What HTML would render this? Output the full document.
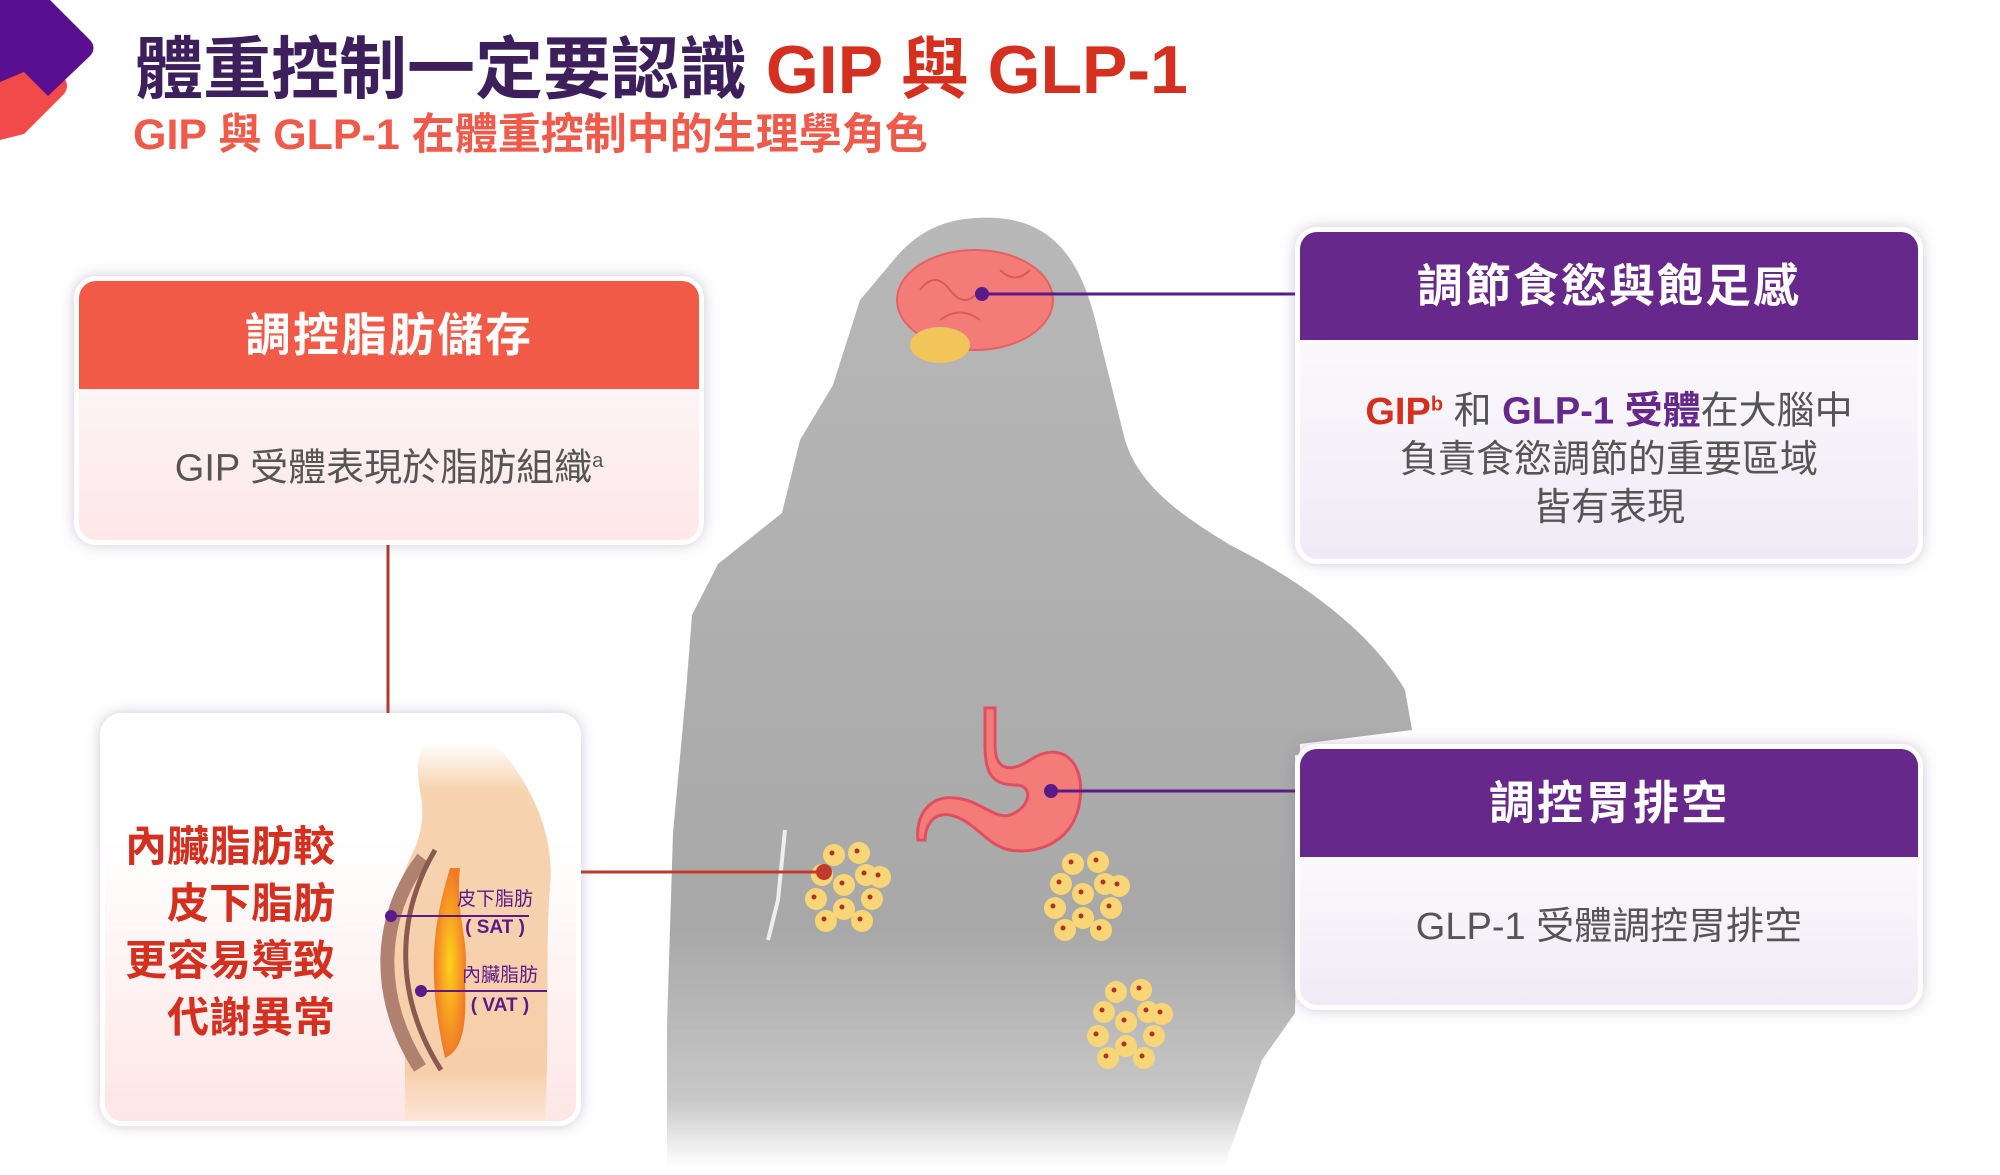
<!DOCTYPE html>
<html><head><meta charset="utf-8"><style>
*{margin:0;padding:0;box-sizing:border-box}
body{width:2000px;height:1175px;background:#fff;position:relative;overflow:hidden;font-family:"Liberation Sans","Noto Sans CJK TC",sans-serif}
.abs{position:absolute}
.card{position:absolute;border-radius:22px;background:#fff;box-shadow:0 0 14px rgba(120,100,140,.35);overflow:hidden;border:5px solid #fff}
.hdr{color:#fff;font-weight:bold;text-align:center;font-size:46px;letter-spacing:2px}
.body{text-align:center;color:#555;font-size:38px;line-height:48px}
</style></head><body>
<svg class="abs" style="left:0;top:0" width="2000" height="1175">
<defs>
<linearGradient id="sil" x1="0" y1="0" x2="0" y2="1">
<stop offset="0" stop-color="#b8b8b8"/><stop offset="0.75" stop-color="#a8a8a8"/><stop offset="0.93" stop-color="#c8c8c8"/><stop offset="1" stop-color="#fff"/></linearGradient>
<radialGradient id="blob"><stop offset="0" stop-color="#ffd21a"/><stop offset="1" stop-color="#f07a28"/></radialGradient>
<linearGradient id="peach" x1="0" y1="0" x2="0" y2="1"><stop offset="0" stop-color="#fff"/><stop offset="0.12" stop-color="#f7d3b0"/><stop offset="0.85" stop-color="#f6cfaa"/><stop offset="1" stop-color="#fde8e0"/></linearGradient>
<g id="fc">
<g fill="#f8d676">
<circle cx="0" cy="0" r="11"/><circle cx="-22" cy="-10" r="11"/><circle cx="22" cy="-10" r="11"/><circle cx="-10" cy="-30" r="11"/><circle cx="15" cy="-32" r="11"/><circle cx="-28" cy="14" r="11"/><circle cx="28" cy="14" r="11"/><circle cx="0" cy="24" r="11"/><circle cx="-18" cy="36" r="11"/><circle cx="18" cy="36" r="11"/><circle cx="36" cy="-8" r="11"/>
</g>
<g fill="#b0302a">
<circle cx="-2" cy="-2" r="2.5"/><circle cx="-24" cy="-12" r="2.5"/><circle cx="20" cy="-12" r="2.5"/><circle cx="-12" cy="-32" r="2.5"/><circle cx="13" cy="-34" r="2.5"/><circle cx="-30" cy="12" r="2.5"/><circle cx="26" cy="12" r="2.5"/><circle cx="-2" cy="22" r="2.5"/><circle cx="-20" cy="34" r="2.5"/><circle cx="16" cy="34" r="2.5"/><circle cx="34" cy="-10" r="2.5"/>
</g>
</g>
</defs>
<path d="M0 78 L38 54 L64 78 Q70 86 64 94 L24 134 L0 140 Z" fill="#f24a4a"/>
<path d="M0 0 L50 0 L90 40 Q97 48 90 56 L48 96 L24 72 L0 82 Z" fill="#5a0f91"/>
<path d="M975 218 C1060 212,1085 270,1100 340 L1125 440 C1140 490,1190 520,1230 545 C1300 580,1370 630,1405 690 L1412 730 L1300 744 L1295 1013 L1262 1060 L1224 1167 L667 1167 L667 1025 L673 833 L686 692 L692 615 L718 564 L782 513 L800 440 L833 385 L860 300 L897 256 C920 230,945 220,975 218 Z" fill="url(#sil)"/>
<path d="M1295 755 L1330 755 L1325 845 L1295 860 Z" fill="#fff"/>
<path d="M785 830 L778 900 L768 940" stroke="#eee" stroke-width="4" fill="none"/>
<ellipse cx="975" cy="300" rx="78" ry="50" fill="#f47c78" stroke="#e86060" stroke-width="2"/>
<ellipse cx="940" cy="345" rx="30" ry="18" fill="#f2c55a"/>
<path d="M920 290 q15 -20 30 0 q15 20 30 0 M940 320 q20 -15 40 0 M1000 270 q15 15 30 0" stroke="#d95a5a" stroke-width="2" fill="none"/>
<line x1="982" y1="294" x2="1295" y2="294" stroke="#5a1a8a" stroke-width="3"/>
<circle cx="982" cy="294" r="7" fill="#5a1a8a"/>
<path d="M995 708 L995 745 C995 775,1015 770,1030 760 C1060 740,1085 760,1080 800 C1075 840,1040 855,1010 850 C985 845,975 820,950 815 C930 812,925 830,925 840 L918 840 C915 815,930 795,955 798 C980 800,995 820,1010 815 C1030 808,1035 785,1015 785 C990 785,985 770,985 745 L985 708 Z" fill="#f47c78" stroke="#e34d60" stroke-width="3"/>
<line x1="1051" y1="791" x2="1295" y2="791" stroke="#5a1a8a" stroke-width="3"/>
<circle cx="1051" cy="791" r="7" fill="#5a1a8a"/>
<use href="#fc" x="844" y="885"/><use href="#fc" x="1083" y="894"/><use href="#fc" x="1126" y="1022"/>
<line x1="581" y1="872" x2="824" y2="872" stroke="#c0392b" stroke-width="3"/>
<circle cx="824" cy="872" r="8" fill="#c0392b"/>
<line x1="388" y1="545" x2="388" y2="713" stroke="#b03a2e" stroke-width="3"/>
</svg>
<div class="abs" style="left:135px;top:14px;font-size:68px;font-weight:bold;color:#3d1f5c;white-space:nowrap">體重控制一定要認識 <span style="color:#d42f1f">GIP 與 GLP-1</span></div>
<div class="abs" style="left:133px;top:100px;font-size:43px;font-weight:bold;color:#ef5a4a;white-space:nowrap">GIP 與 GLP-1 在體重控制中的生理學角色</div>

<div class="card" style="left:74px;top:276px;width:630px;height:269px">
<div class="hdr" style="background:#f05a47;height:108px;line-height:108px">調控脂肪儲存</div>
<div class="body" style="height:160px;padding-top:48px;background:linear-gradient(#fdf4f5,#fde6e8)">GIP 受體表現於脂肪組織<sup style="font-size:20px">a</sup></div>
</div>

<div class="card" style="left:100px;top:713px;width:481px;height:413px;background:linear-gradient(#fff 30%,#fde6e6)">
<div class="abs" style="left:5px;top:100px;width:225px;text-align:right;color:#d42f1f;font-weight:bold;font-size:42px;line-height:57px">內臟脂肪較<br>皮下脂肪<br>更容易導致<br>代謝異常</div>
<svg class="abs" style="left:0;top:0" width="481" height="413">
<path d="M320 25 C300 60,330 80,310 130 C280 190,270 260,300 330 L300 410 L440 410 C445 300,440 230,445 170 C450 120,430 70,390 25 Z" fill="url(#peach)"/>
<path d="M318 140 C272 200,270 280,315 350" stroke="#b08070" stroke-width="14" fill="none"/>
<path d="M330 132 C290 200,290 280,336 352" stroke="#8a5a50" stroke-width="5" fill="none"/>
<path d="M345 150 C330 200,320 250,340 340 C365 330,360 280,360 260 C365 220,350 200,355 150 Z" fill="url(#blob)"/>
<line x1="286" y1="198" x2="424" y2="198" stroke="#5a1a8a" stroke-width="2"/>
<circle cx="286" cy="198" r="6" fill="#5a1a8a"/>
<line x1="316" y1="273" x2="442" y2="273" stroke="#5a1a8a" stroke-width="2"/>
<circle cx="316" cy="273" r="6" fill="#5a1a8a"/>
</svg>
<div class="abs" style="left:340px;top:168px;width:100px;text-align:center;color:#5a1a8a;font-size:19px;line-height:28px">皮下脂肪<br><b>( SAT )</b></div>
<div class="abs" style="left:345px;top:243px;width:100px;text-align:center;color:#5a1a8a;font-size:19px;line-height:30px">內臟脂肪<br><b>( VAT )</b></div>
</div>

<div class="card" style="left:1295px;top:227px;width:628px;height:337px">
<div class="hdr" style="background:#66288a;height:108px;line-height:108px">調節食慾與飽足感</div>
<div class="body" style="height:230px;padding-top:40px;background:linear-gradient(#fbf9fc,#efe9f5)"><b style="color:#d42f1f">GIP<sup style="font-size:20px">b</sup></b> 和 <b style="color:#66288a">GLP-1 受體</b>在大腦中<br>負責食慾調節的重要區域<br>皆有表現</div>
</div>

<div class="card" style="left:1295px;top:744px;width:628px;height:266px">
<div class="hdr" style="background:#66288a;height:108px;line-height:108px">調控胃排空</div>
<div class="body" style="height:160px;padding-top:46px;background:linear-gradient(#fbf9fc,#efe9f5)">GLP-1 受體調控胃排空</div>
</div>
</body></html>
